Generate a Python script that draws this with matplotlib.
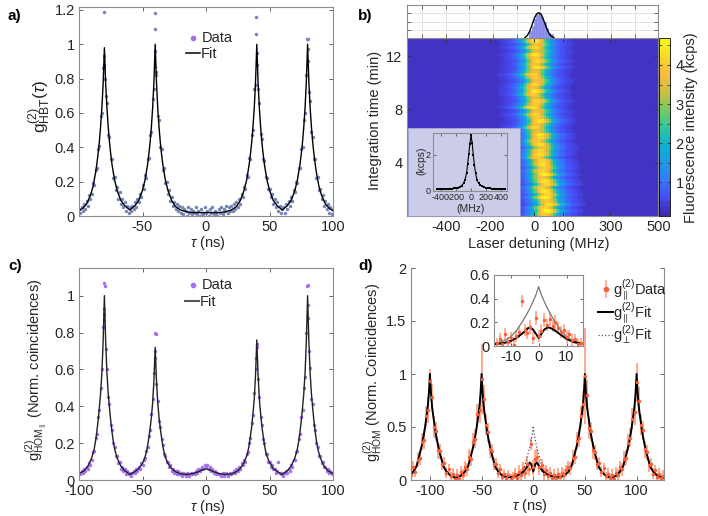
import numpy as np
import matplotlib
matplotlib.use('Agg')
import matplotlib.pyplot as plt
from matplotlib.colors import LinearSegmentedColormap
from matplotlib.lines import Line2D
from matplotlib.ticker import FormatStrFormatter

plt.rcParams['font.family'] = 'Liberation Sans'
plt.rcParams['mathtext.fontset'] = 'custom'
plt.rcParams['mathtext.rm'] = 'Liberation Sans'
plt.rcParams['mathtext.it'] = 'Liberation Sans:italic'
plt.rcParams['mathtext.bf'] = 'Liberation Sans:bold'
plt.rcParams['font.size'] = 10.5
plt.rcParams['axes.unicode_minus'] = False
plt.rcParams['text.color'] = '#262626'
plt.rcParams['xtick.labelcolor'] = '#262626'
plt.rcParams['ytick.labelcolor'] = '#262626'
plt.rcParams['xtick.color'] = '#666666'
plt.rcParams['ytick.color'] = '#666666'

# ---------------- a) HBT ----------------
tau_a = np.arange(-100, 101, 1)
hbt_data = [0.04, 0.02, 0.05, 0.03, 0.07, 0.04, 0.09, 0.06, 0.12, 0.10,
            0.13, 0.19, 0.18, 0.27, 0.28, 0.39, 0.41, 0.58, 0.60, 0.86,
            0.93,
            0.70, 0.66, 0.47, 0.46, 0.33, 0.33, 0.22, 0.23, 0.15, 0.17,
            0.10, 0.14, 0.07, 0.10, 0.05, 0.08, 0.03, 0.06, 0.02, 0.05,
            0.03, 0.06, 0.04, 0.08, 0.05, 0.10, 0.08, 0.13, 0.11, 0.18,
            0.16, 0.24, 0.22, 0.33, 0.34, 0.47, 0.49, 0.68, 0.74,
            0.96,
            0.82, 0.58, 0.56, 0.40, 0.39, 0.27, 0.28, 0.19, 0.20, 0.13,
            0.15, 0.09, 0.11, 0.06, 0.08, 0.04, 0.07, 0.03, 0.06, 0.02,
            0.05, 0.01, 0.04, 0.03, 0.00, 0.05, 0.02, 0.04, 0.01, 0.03,
            0.02, 0.05, 0.01, 0.03, 0.00, 0.04, 0.02, 0.01, 0.05, 0.02,
            0.03, 0.00, 0.04, 0.02, 0.05, 0.01, 0.03, 0.02, 0.00, 0.04,
            0.02, 0.05, 0.01, 0.04, 0.03, 0.06, 0.02, 0.05, 0.03, 0.06,
            0.03, 0.07, 0.04, 0.08, 0.05, 0.10, 0.07, 0.13, 0.11, 0.17,
            0.16, 0.24, 0.23, 0.34, 0.33, 0.47, 0.50, 0.74, 0.76,
            0.95,
            0.74, 0.66, 0.48, 0.45, 0.33, 0.32, 0.23, 0.22, 0.16, 0.16,
            0.11, 0.13, 0.07, 0.10, 0.05, 0.08, 0.03, 0.06, 0.02, 0.04,
            0.05, 0.02, 0.07, 0.04, 0.09, 0.06, 0.11, 0.09, 0.15, 0.14,
            0.20, 0.19, 0.28, 0.28, 0.39, 0.40, 0.56, 0.60, 0.82,
            0.97,
            0.72, 0.67, 0.49, 0.46, 0.33, 0.33, 0.22, 0.23, 0.15, 0.16,
            0.10, 0.12, 0.06, 0.09, 0.04, 0.07, 0.02, 0.05, 0.01, 0.04]
hbt_extra_x = [-80.5, -80.5, -79.5, -40.5, -40.5, -40.5, -39.5, 39.5, 39.5, 40.5, 80.5, 79.5, 80.5]
hbt_extra_y = [1.19, 0.88, 0.80, 1.18, 1.09, 0.87, 0.84, 1.16, 1.06, 0.88, 1.03, 1.03, 0.90]
hbt_fit_x = [-100, -97, -94, -91, -89, -87, -86, -85, -84, -83, -82, -81, -80, -79, -78, -77, -76, -75, -74, -72,
             -70, -67, -64, -60, -56, -53, -50, -48, -46, -45, -44, -43, -42, -41, -40, -39, -38, -37, -36, -35,
             -34, -32, -30, -27, -24, -20, -15, -10, 0, 10, 15, 20, 24, 27, 30, 32, 34, 35, 36, 37,
             38, 39, 40, 41, 42, 43, 44, 45, 46, 48, 50, 53, 56, 60, 64, 67, 70, 72, 74, 75,
             76, 77, 78, 79, 80, 81, 82, 83, 84, 85, 86, 87, 89, 91, 94, 97, 100]
hbt_fit_y = [0.03, 0.045, 0.07, 0.12, 0.17, 0.25, 0.30, 0.36, 0.43, 0.52, 0.63, 0.77, 0.98, 0.77, 0.63, 0.52, 0.43, 0.36, 0.30, 0.21,
             0.15, 0.09, 0.06, 0.035, 0.06, 0.09, 0.15, 0.21, 0.30, 0.36, 0.43, 0.52, 0.63, 0.78, 1.0, 0.78, 0.63, 0.52, 0.43, 0.36,
             0.30, 0.21, 0.15, 0.09, 0.055, 0.035, 0.024, 0.02, 0.02, 0.02, 0.024, 0.035, 0.055, 0.09, 0.15, 0.21, 0.30, 0.36, 0.43, 0.52,
             0.63, 0.78, 1.0, 0.78, 0.63, 0.52, 0.43, 0.36, 0.30, 0.21, 0.15, 0.09, 0.06, 0.035, 0.06, 0.09, 0.15, 0.21, 0.30, 0.36,
             0.43, 0.52, 0.63, 0.78, 1.0, 0.78, 0.63, 0.52, 0.43, 0.36, 0.30, 0.25, 0.17, 0.12, 0.07, 0.045, 0.03]

# ---------------- b) resonance scan ----------------
det_edges = np.arange(-565, 506, 10)      # MHz bins
time_edges = np.arange(55) * 0.25         # min
bg_level = 0.32
line_profile = [0.42, 0.46, 0.5, 0.55, 0.62, 0.72, 0.85, 1.0, 1.25, 1.6, 2.1, 2.7, 3.3, 3.8, 4.1, 4.2,
                4.05, 3.7, 3.2, 2.6, 2.0, 1.6, 1.3, 1.05, 0.9, 0.78, 0.68, 0.6, 0.53, 0.48, 0.44]
# line centre (MHz) and strength for each scan row, top row first
row_center = [-10, -20, -10, -20, -10, -20, -20, -10, -20, -10, -20, -30, -20, -10,
              -20, -30, -20, -30, -20, -10, -20, -30,
              -10, -20, -10, 0, -10, -20, -10, 0,
              0, -10, 0, 10, 0, 0, -10, 10,
              10, 20, 10, 20, 10, 20, 30, 10,
              20, 30, 20, 30, 40, 20, 30, 20]
row_amp = [0.95, 1.05, 0.9, 1.0, 0.85, 1.05, 0.95, 1.0, 0.9, 1.05, 0.85, 1.0, 0.95, 0.9,
           1.0, 0.9, 1.05, 0.95, 0.85, 1.0, 0.95, 1.05,
           0.9, 1.0, 0.95, 1.05, 0.9, 1.0, 0.85, 1.05,
           1.0, 0.95, 1.05, 0.9, 1.0, 1.05, 0.95, 1.0,
           1.05, 0.95, 1.0, 1.1, 0.9, 1.05, 1.0, 0.95,
           1.05, 1.0, 1.1, 0.95, 1.05, 1.0, 1.1, 0.95]
hist_centers = [-42, -32, -22, -12, -2, 8, 18, 28, 38, 48]
hist_counts = [0.9, 1.5, 2.3, 2.9, 3.05, 2.6, 1.9, 1.2, 0.6, 0.5]
hist_fit_x = [-65, -55, -45, -35, -25, -15, -5, 5, 15, 25, 35, 45, 58]
hist_fit_y = [0.05, 0.3, 0.8, 1.6, 2.4, 2.95, 3.07, 2.8, 2.1, 1.3, 0.65, 0.25, 0.03]
spec_x = [-450, -425, -400, -375, -350, -325, -300, -275, -250, -225, -200, -175, -150, -125, -100, -80, -60, -45,
          -30, -15, 0, 15, 30, 45, 60, 80, 100, 125, 150, 175, 200, 225, 250, 275, 300, 325, 350, 375, 400, 425, 450]
spec_y = [0.10, 0.12, 0.09, 0.11, 0.10, 0.12, 0.11, 0.13, 0.12, 0.14, 0.16, 0.19, 0.23, 0.30, 0.42, 0.62, 0.98, 1.5,
          2.05, 2.6, 3.1, 2.65, 2.0, 1.45, 1.0, 0.62, 0.44, 0.32, 0.25, 0.2, 0.17, 0.15, 0.14, 0.12, 0.12, 0.11, 0.11,
          0.10, 0.11, 0.10, 0.10]

# ---------------- c) HOM parallel ----------------
tau_c = np.arange(-100, 101, 1)
hom_data = [0.04, 0.03, 0.05, 0.04, 0.06, 0.05, 0.07, 0.06, 0.09, 0.08,
            0.11, 0.15, 0.16, 0.23, 0.25, 0.34, 0.38, 0.50, 0.60, 0.83,
            0.93,
            0.71, 0.60, 0.45, 0.41, 0.30, 0.27, 0.20, 0.18, 0.13, 0.13,
            0.09, 0.10, 0.06, 0.07, 0.05, 0.06, 0.03, 0.05, 0.03, 0.04,
            0.02, 0.04, 0.05, 0.04, 0.06, 0.05, 0.07, 0.06, 0.09, 0.08,
            0.11, 0.12, 0.16, 0.18, 0.24, 0.27, 0.36, 0.44, 0.58,
            0.70,
            0.52, 0.43, 0.32, 0.29, 0.22, 0.19, 0.14, 0.13, 0.10, 0.10,
            0.07, 0.08, 0.05, 0.06, 0.04, 0.05, 0.03, 0.05, 0.03, 0.04,
            0.02, 0.04, 0.03, 0.02, 0.04, 0.03, 0.02, 0.04, 0.03, 0.04,
            0.03, 0.05, 0.04, 0.06, 0.05, 0.06, 0.07, 0.06, 0.08, 0.07,
            0.08, 0.06, 0.07, 0.05, 0.06, 0.04, 0.05, 0.03, 0.04, 0.03,
            0.03, 0.02, 0.04, 0.02, 0.03, 0.04, 0.02, 0.03, 0.04, 0.03,
            0.04, 0.05, 0.04, 0.06, 0.05, 0.07, 0.06, 0.09, 0.08, 0.11,
            0.10, 0.14, 0.15, 0.20, 0.23, 0.31, 0.35, 0.47, 0.60,
            0.74,
            0.55, 0.45, 0.34, 0.30, 0.22, 0.20, 0.14, 0.14, 0.10, 0.10,
            0.07, 0.08, 0.06, 0.06, 0.04, 0.05, 0.10, 0.04, 0.03, 0.04,
            0.02, 0.04, 0.05, 0.04, 0.06, 0.05, 0.08, 0.07, 0.11, 0.11,
            0.15, 0.16, 0.22, 0.25, 0.34, 0.38, 0.50, 0.56, 0.80,
            0.95,
            0.70, 0.61, 0.44, 0.41, 0.30, 0.27, 0.20, 0.18, 0.13, 0.13,
            0.09, 0.10, 0.07, 0.07, 0.05, 0.06, 0.04, 0.05, 0.03, 0.04]
hom_extra_x = [-80.5, -79.5, -80.5, -40.5, -39.5, -40.5, 40.5, 39.5, 80.5, 79.5, 80.5]
hom_extra_y = [1.07, 1.05, 0.90, 0.80, 0.79, 0.66, 0.72, 0.66, 1.06, 1.05, 0.88]
hom_fit_x = [-100, -96, -93, -90, -88, -87, -86, -85, -84, -83, -82, -81, -80, -79, -78, -77, -76, -75, -74, -73,
             -72, -70, -67, -64, -60, -56, -53, -50, -48, -47, -46, -45, -44, -43, -42, -41, -40, -39, -38, -37,
             -36, -35, -34, -33, -32, -30, -27, -24, -20, -15, -10, -6, -3, 0, 3, 6, 10, 15, 20, 24,
             27, 30, 32, 33, 34, 35, 36, 37, 38, 39, 40, 41, 42, 43, 44, 45, 46, 47, 48, 50,
             53, 56, 60, 64, 67, 70, 72, 73, 74, 75, 76, 77, 78, 79, 80, 81, 82, 83, 84, 85,
             86, 87, 88, 90, 93, 96, 100]
hom_fit_y = [0.035, 0.05, 0.075, 0.12, 0.17, 0.21, 0.26, 0.32, 0.39, 0.47, 0.58, 0.75, 1.0, 0.75, 0.58, 0.47, 0.39, 0.32, 0.26, 0.21,
             0.17, 0.12, 0.075, 0.05, 0.03, 0.045, 0.062, 0.09, 0.125, 0.15, 0.185, 0.23, 0.28, 0.34, 0.42, 0.54, 0.72, 0.54, 0.42, 0.34,
             0.28, 0.23, 0.185, 0.15, 0.125, 0.09, 0.062, 0.045, 0.033, 0.03, 0.035, 0.045, 0.055, 0.06, 0.055, 0.045, 0.035, 0.03, 0.033, 0.045,
             0.063, 0.095, 0.13, 0.155, 0.19, 0.24, 0.29, 0.36, 0.44, 0.57, 0.76, 0.57, 0.44, 0.36, 0.29, 0.24, 0.19, 0.155, 0.13, 0.095,
             0.063, 0.045, 0.03, 0.05, 0.075, 0.12, 0.17, 0.21, 0.26, 0.32, 0.39, 0.47, 0.58, 0.75, 1.0, 0.75, 0.58, 0.47, 0.39, 0.32,
             0.26, 0.21, 0.17, 0.12, 0.075, 0.05, 0.035]

# ---------------- d) HOM parallel vs perpendicular ----------------
tau_d = np.arange(-118, 127, 2)
homd_data = [0.05, 0.12, 0.08, 0.19, 0.21, 0.36, 0.38, 0.60, 0.66, 0.93,
             0.78, 0.50, 0.46, 0.28, 0.27, 0.15, 0.16, 0.07, 0.10, 0.04,
             0.06, 0.01, 0.05, 0.02, 0.08, 0.05, 0.12, 0.10, 0.22, 0.20,
             0.36, 0.39, 0.62, 0.66, 0.95, 0.76, 0.52, 0.45, 0.29, 0.27,
             0.15, 0.15, 0.07, 0.10, 0.03, 0.06, 0.02, 0.05, 0.01, 0.04,
             0.06, 0.02, 0.08, 0.05, 0.11, 0.07, 0.15, 0.10, 0.34, 0.12,
             0.20, 0.22, 0.12, 0.14, 0.06, 0.09, 0.04, 0.07, 0.02, 0.05,
             0.02, 0.06, 0.03, 0.07, 0.05, 0.09, 0.12, 0.11, 0.21, 0.22,
             0.37, 0.40, 0.60, 0.72, 0.98, 0.80, 0.49, 0.46, 0.28, 0.26,
             0.15, 0.16, 0.08, 0.11, 0.04, 0.06, 0.02, 0.05, 0.01, 0.07,
             0.05, 0.12, 0.10, 0.20, 0.21, 0.35, 0.40, 0.58, 0.64, 0.92,
             0.75, 0.52, 0.47, 0.29, 0.26, 0.14, 0.15, 0.06, 0.09, 0.03,
             0.06, 0.02, 0.04]
homd_err = [0.05, 0.06, 0.05, 0.07, 0.07, 0.08, 0.09, 0.10, 0.12, 0.12,
            0.13, 0.10, 0.09, 0.08, 0.07, 0.06, 0.06, 0.05, 0.05, 0.04,
            0.05, 0.04, 0.05, 0.04, 0.05, 0.05, 0.06, 0.06, 0.07, 0.07,
            0.08, 0.09, 0.10, 0.12, 0.33, 0.14, 0.10, 0.09, 0.08, 0.07,
            0.06, 0.06, 0.05, 0.05, 0.04, 0.04, 0.05, 0.04, 0.05, 0.04,
            0.05, 0.05, 0.06, 0.05, 0.06, 0.06, 0.07, 0.06, 0.06, 0.07,
            0.08, 0.07, 0.07, 0.06, 0.06, 0.05, 0.05, 0.05, 0.04, 0.05,
            0.04, 0.05, 0.04, 0.05, 0.05, 0.05, 0.06, 0.06, 0.07, 0.07,
            0.08, 0.09, 0.10, 0.12, 0.45, 0.14, 0.10, 0.09, 0.08, 0.07,
            0.06, 0.06, 0.05, 0.05, 0.04, 0.05, 0.04, 0.05, 0.04, 0.05,
            0.05, 0.06, 0.06, 0.07, 0.07, 0.08, 0.09, 0.10, 0.12, 0.18,
            0.13, 0.10, 0.09, 0.08, 0.07, 0.06, 0.06, 0.05, 0.05, 0.04,
            0.05, 0.04, 0.05]
par_fit_x = [-119, -116, -113, -110, -108, -106, -105, -104, -103, -102, -101, -100, -99, -98, -97, -96, -95, -94, -92, -90,
             -87, -84, -80, -75, -70, -66, -63, -60, -58, -56, -55, -54, -53, -52, -51, -50, -49, -48, -47, -46,
             -45, -44, -42, -40, -37, -34, -30, -25, -20, -15, -10, -7, -5, -3.5, -2, -1, 0, 1, 2, 3.5,
             5, 7, 10, 15, 20, 25, 30, 34, 37, 40, 42, 44, 45, 46, 47, 48, 49, 50, 51, 52,
             53, 54, 55, 56, 58, 60, 63, 66, 70, 75, 80, 84, 87, 90, 92, 94, 95, 96, 97, 98,
             99, 100, 101, 102, 103, 104, 105, 106, 108, 110, 113, 116, 120, 126]
par_fit_y = [0.045, 0.08, 0.13, 0.24, 0.32, 0.42, 0.48, 0.55, 0.62, 0.70, 0.82, 1.0, 0.82, 0.70, 0.62, 0.55, 0.48, 0.42, 0.32, 0.24,
             0.13, 0.08, 0.04, 0.02, 0.04, 0.08, 0.13, 0.24, 0.32, 0.42, 0.48, 0.55, 0.62, 0.70, 0.82, 1.0, 0.82, 0.70, 0.62, 0.55,
             0.48, 0.42, 0.32, 0.24, 0.13, 0.08, 0.04, 0.025, 0.03, 0.045, 0.075, 0.11, 0.14, 0.165, 0.15, 0.115, 0.08, 0.115, 0.15, 0.165,
             0.14, 0.11, 0.075, 0.045, 0.03, 0.025, 0.04, 0.08, 0.13, 0.24, 0.32, 0.42, 0.48, 0.55, 0.62, 0.70, 0.82, 1.0, 0.82, 0.70,
             0.62, 0.55, 0.48, 0.42, 0.32, 0.24, 0.13, 0.08, 0.04, 0.02, 0.04, 0.08, 0.13, 0.24, 0.32, 0.42, 0.48, 0.55, 0.62, 0.70,
             0.82, 1.0, 0.82, 0.70, 0.62, 0.55, 0.48, 0.42, 0.32, 0.24, 0.13, 0.08, 0.04, 0.02]
perp_fit_x = [-20, -16, -14, -12, -10, -8, -6, -5, -4, -3, -2, -1, 0, 1, 2, 3, 4, 5, 6, 8, 10, 12, 14, 16, 20]
perp_fit_y = [0.03, 0.035, 0.045, 0.06, 0.09, 0.14, 0.215, 0.25, 0.285, 0.325, 0.375, 0.43, 0.51,
              0.43, 0.375, 0.325, 0.285, 0.25, 0.215, 0.14, 0.09, 0.06, 0.045, 0.035, 0.03]
# inset (zoom around tau = 0)
tau_in = np.arange(-15, 16, 1)
inset_data = [0.03, 0.06, 0.02, 0.10, 0.04, 0.07, 0.01, 0.09, 0.12, 0.38, 0.14, 0.11, 0.16, 0.07, 0.24, 0.09,
              0.13, 0.22, 0.18, 0.23, 0.17, 0.20, 0.15, 0.12, 0.14, 0.08, 0.10, 0.05, 0.06, 0.02, 0.03]
inset_err = [0.04, 0.05, 0.04, 0.05, 0.04, 0.05, 0.04, 0.05, 0.05, 0.05, 0.05, 0.05, 0.06, 0.05, 0.06, 0.05,
             0.06, 0.06, 0.05, 0.06, 0.05, 0.06, 0.05, 0.05, 0.05, 0.05, 0.04, 0.05, 0.04, 0.04, 0.04]
inset_par_x = [-16, -14, -12, -10, -8, -6, -5, -4, -3.5, -3, -2, -1, 0, 1, 2, 3, 3.5, 4, 5, 6, 8, 10, 12, 14, 16]
inset_par_y = [0.018, 0.022, 0.03, 0.045, 0.07, 0.105, 0.125, 0.148, 0.155, 0.155, 0.14, 0.105, 0.07,
               0.105, 0.14, 0.155, 0.158, 0.155, 0.145, 0.13, 0.095, 0.062, 0.04, 0.028, 0.02]
inset_perp_x = [-16, -14, -12, -10, -8, -6, -5, -4, -3, -2, -1, 0, 1, 2, 3, 4, 5, 6, 8, 10, 12, 14, 16]
inset_perp_y = [0.025, 0.035, 0.05, 0.08, 0.13, 0.2, 0.24, 0.28, 0.325, 0.375, 0.43, 0.50,
                0.43, 0.375, 0.325, 0.28, 0.24, 0.2, 0.13, 0.08, 0.05, 0.035, 0.025]

# approximate MATLAB parula
parula = LinearSegmentedColormap.from_list('parula', [
    (0.00, (0.242, 0.150, 0.660)), (0.10, (0.276, 0.290, 0.950)),
    (0.20, (0.200, 0.480, 0.990)), (0.30, (0.120, 0.600, 0.900)),
    (0.40, (0.050, 0.700, 0.820)), (0.50, (0.200, 0.780, 0.600)),
    (0.60, (0.480, 0.790, 0.380)), (0.70, (0.800, 0.750, 0.240)),
    (0.80, (0.990, 0.730, 0.250)), (0.90, (0.970, 0.860, 0.160)),
    (1.00, (0.977, 0.984, 0.081))])

W, H = 708, 516
fig = plt.figure(figsize=(W / 100, H / 100), dpi=100)


def fx(x):
    return x / W


def fy(y):
    return 1 - y / H


def px_axes(l, t, r, b, **kw):
    return fig.add_axes([l / W, 1 - b / H, (r - l) / W, (b - t) / H], **kw)


def style(ax, top=True):
    for s in ax.spines.values():
        s.set_color('#8c8c8c')
        s.set_linewidth(0.8)
    ax.tick_params(direction='in', length=3, width=0.7, top=top, right=True)
    ax.tick_params(axis='x', pad=3)
    ax.tick_params(axis='y', pad=3)


def label(x, y, s, rot=0, **kw):
    fig.text(fx(x), fy(y), s, ha='center', va='center', rotation=rot, **kw)


# ---- a)
ax = px_axes(79, 7, 333, 216)
ax.plot(tau_a, hbt_data, '.', color='#7586bb', ms=5, mew=0)
ax.plot(hbt_extra_x, hbt_extra_y, '.', color='#7586bb', ms=5, mew=0)
ax.plot(hbt_fit_x, hbt_fit_y, color='black', lw=1.0)
ax.set_xlim(-100, 100)
ax.set_ylim(0, 1.217)
ax.set_xticks([-50, 0, 50, 100])
ax.set_yticks([0, 0.2, 0.4, 0.6, 0.8, 1.0, 1.2])
ax.yaxis.set_major_formatter(FormatStrFormatter('%g'))
style(ax)
label(40, 106, r'$\mathrm{g}^{(2)}_{\mathrm{HBT}}(\tau)$', rot=90, fontsize=12.5)
label(208, 243, r'$\tau$ (ns)')
fig.add_artist(Line2D([fx(192.7)], [fy(37.7)], marker='.', color='#a070e8', ms=6, ls='none'))
fig.text(fx(202), fy(38), 'Data', va='center')
fig.add_artist(Line2D([fx(186), fx(200)], [fy(53), fy(53)], color='black', lw=1.1))
fig.text(fx(201), fy(53.5), 'Fit', va='center')

# ---- b)
img = np.full((len(row_center), len(det_edges) - 1), bg_level)
for r, (c, a) in enumerate(zip(row_center, row_amp)):
    c0 = int(round((c + 560) / 10)) - 15
    for k, v in enumerate(line_profile):
        img[r, c0 + k] = bg_level + a * (v - bg_level)
axb = px_axes(406.7, 38, 658.3, 216)
mesh = axb.pcolormesh(det_edges, time_edges, img[::-1], cmap=parula, vmin=0.14, vmax=4.69, rasterized=True)
axb.set_xlim(-566, 500)
axb.set_ylim(0, 13.35)
axb.set_yticks([4, 8, 12])
axb.set_xticks([-398, -211, -25, 98, 297, 500])
axb.set_xticklabels(['-400', '-200', '0', '100', '300', '500'])
style(axb)
axb.tick_params(color='#333333')
label(375, 120, 'Integration time (min)', rot=90)
label(539, 244, 'Laser detuning (MHz)')

axh = px_axes(406.7, 5, 658.3, 38)
axh.bar(hist_centers, hist_counts, width=10, color='#8f93ef', edgecolor='#7a7ed8', lw=0.4)
axh.plot(hist_fit_x, hist_fit_y, color='black', lw=1.0)
axh.set_xlim(-566, 500)
axh.set_ylim(0, 4)
axh.set_xticks(np.arange(-500, 501, 100))
axh.set_yticks([1, 2, 3])
axh.grid(True, color='#dddddd', lw=0.6)
axh.set_axisbelow(True)
axh.set_xticklabels([])
axh.set_yticklabels([])
style(axh)

cax = px_axes(659, 38, 670, 216)
cb = fig.colorbar(mesh, cax=cax, ticks=[1, 2, 3, 4])
cb.outline.set_linewidth(0.6)
cax.set_yticks([0.5, 1.5, 2.5, 3.5, 4.5], minor=True)
cax.tick_params(which='both', direction='in', length=2.5, left=True, right=True, color='#444444', pad=4)
cax.set_yticklabels(['1', '2', '3', '4'])
label(691, 128, 'Fluorescence intensity (kcps)', rot=90)

inset_bg = px_axes(408, 128, 520, 216)
inset_bg.set_facecolor('#cbcce7')
inset_bg.set_xticks([])
inset_bg.set_yticks([])
for s in inset_bg.spines.values():
    s.set_color('#9a9ccc')
    s.set_linewidth(0.6)
axi = px_axes(433, 133, 507, 191)
axi.set_facecolor('none')
axi.plot(spec_x, spec_y, color='black', lw=0.8, marker='s', ms=2, mew=0)
axi.set_xlim(-507, 480)
axi.set_ylim(0, 3.2)
axi.set_xticks([-400, -200, 0, 200, 400])
axi.set_yticks([0, 2])
style(axi)
axi.tick_params(labelsize=6.5, pad=1.5, length=2)
label(421, 161, '(kcps)', rot=90, fontsize=7.5)
label(471, 209, '(MHz)', fontsize=7.5)

# ---- c)
axc = px_axes(79, 268, 333, 480)
axc.plot(tau_c, hom_data, '.', color='#a46ff0', ms=5, mew=0)
axc.plot(hom_extra_x, hom_extra_y, '.', color='#a46ff0', ms=5, mew=0)
axc.plot(hom_fit_x, hom_fit_y, color='#222222', lw=1.0)
axc.set_xlim(-100, 100)
axc.set_ylim(0, 1.15)
axc.set_xticks([-100, -50, 0, 50, 100])
axc.set_yticks([0, 0.2, 0.4, 0.6, 0.8, 1.0])
axc.yaxis.set_major_formatter(FormatStrFormatter('%g'))
style(axc)
label(36, 370, r'$\mathrm{g}^{(2)}_{\mathrm{HOM}_{\parallel}}$ (Norm. coincidences)', rot=90)
label(208, 507, r'$\tau$ (ns)')
fig.add_artist(Line2D([fx(192.7)], [fy(284.7)], marker='.', color='#a46ff0', ms=6, ls='none'))
fig.text(fx(202), fy(285), 'Data', va='center')
fig.add_artist(Line2D([fx(185), fx(199)], [fy(301), fy(301)], color='#555555', lw=1.5))
fig.text(fx(200), fy(301.5), 'Fit', va='center')

# ---- d)
axd = px_axes(410.7, 268, 664, 480)
axd.errorbar(tau_d, homd_data, yerr=homd_err, fmt='.', color='#f8603a', ecolor='#ffa387',
             elinewidth=1.3, ms=5, capsize=0, mew=0)
axd.plot(perp_fit_x, perp_fit_y, color='#555555', lw=0.9, ls=':')
axd.plot(par_fit_x, par_fit_y, color='black', lw=1.4)
axd.set_xlim(-118.6, 126.5)
axd.set_ylim(0, 2)
axd.set_xticks([-100, -50, 0, 50, 100])
axd.set_yticks([0, 0.5, 1, 1.5, 2])
axd.yaxis.set_major_formatter(FormatStrFormatter('%g'))
style(axd, top=False)
axd.spines['top'].set_visible(False)
label(373, 372, r'$\mathrm{g}^{(2)}_{\mathrm{HOM}}$ (Norm. Coincidences)', rot=90)
label(530, 506, r'$\tau$ (ns)')

# legend of d
fig.add_artist(Line2D([fx(606), fx(606)], [fy(281), fy(297)], color='#ffa387', lw=1.2))
fig.add_artist(Line2D([fx(606)], [fy(289)], marker='.', color='#f8603a', ms=6, ls='none'))
fig.text(fx(613), fy(290), r'$\mathrm{g}^{(2)}_{\parallel}$Data', va='center')
fig.add_artist(Line2D([fx(598), fx(613)], [fy(312), fy(312)], color='black', lw=1.4))
fig.text(fx(613), fy(313), r'$\mathrm{g}^{(2)}_{\parallel}$Fit', va='center')
fig.add_artist(Line2D([fx(598), fx(613)], [fy(334.5), fy(334.5)], color='#555555', lw=0.9, ls=':'))
fig.text(fx(613), fy(335.5), r'$\mathrm{g}^{(2)}_{\perp}$Fit', va='center')

axdi = px_axes(494, 274.7, 583.3, 346.3)
axdi.errorbar(tau_in, inset_data, yerr=inset_err, fmt='.', color='#f8603a', ecolor='#ffa387',
              elinewidth=1.2, ms=5, capsize=0, mew=0)
axdi.plot(inset_perp_x, inset_perp_y, color='#777777', lw=0.9)
axdi.plot(inset_par_x, inset_par_y, color='black', lw=1.4)
axdi.set_xlim(-16, 16)
axdi.set_ylim(0, 0.6)
axdi.set_xticks([-10, 0, 10])
axdi.set_yticks([0, 0.2, 0.4, 0.6])
axdi.yaxis.set_major_formatter(FormatStrFormatter('%g'))
style(axdi)
axdi.tick_params(length=2.5)

# panel letters
for s, x, y in [('a)', 8, 16), ('b)', 358, 16), ('c)', 8, 266), ('d)', 358, 266)]:
    fig.text(fx(x), fy(y), s, fontsize=11, fontweight='bold', va='center', color='black')

fig.savefig('out.png', dpi=100)
